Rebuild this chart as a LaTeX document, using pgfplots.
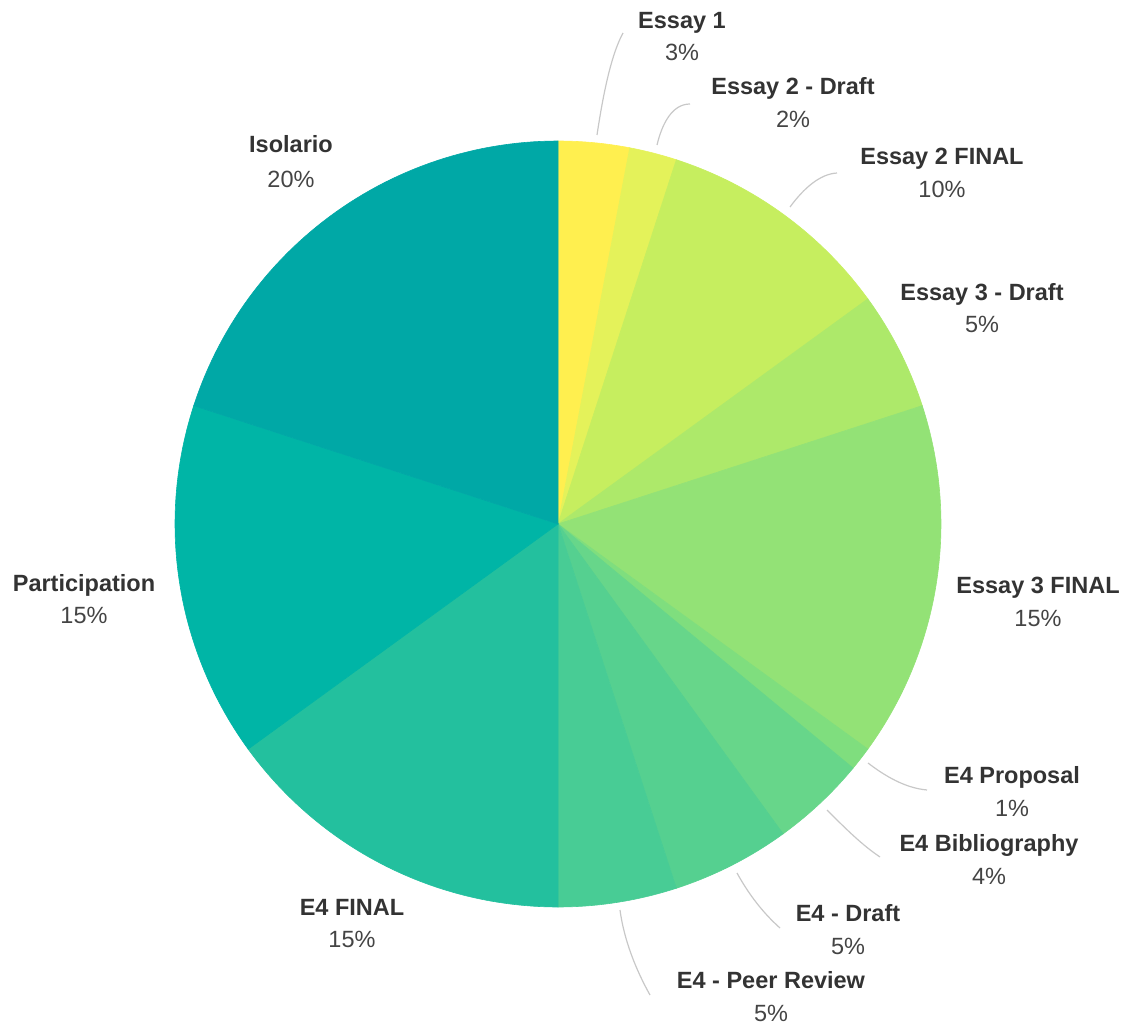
\documentclass[border=0pt]{standalone}
\usepackage{pgfplots}
\pgfplotsset{compat=1.18}
\usepackage{fontspec}
\setmainfont{Liberation Sans}
\definecolor{cA}{HTML}{FFEF4F}
\definecolor{cB}{HTML}{E4F25A}
\definecolor{cC}{HTML}{C6EE5F}
\definecolor{cD}{HTML}{ADE96A}
\definecolor{cE}{HTML}{93E276}
\definecolor{cF}{HTML}{7FDE7E}
\definecolor{cG}{HTML}{67D68A}
\definecolor{cH}{HTML}{55D090}
\definecolor{cI}{HTML}{48CC95}
\definecolor{cJ}{HTML}{23C09E}
\definecolor{cK}{HTML}{00B5A6}
\definecolor{cL}{HTML}{00A8A6}
\definecolor{lname}{HTML}{333333}
\definecolor{lpct}{HTML}{444444}
\definecolor{leader}{HTML}{C8C8C8}
% slice: start percent, end percent, colour
\newcommand{\pieslice}[3]{%
  \addplot[fill=#3, draw=#3, line width=0.6pt, domain={90-3.6*#2}:{90-3.6*#1}, samples=60, variable=\t]
    ({558+383*cos(\t)},{524-383*sin(\t)}) -- (558,524) -- cycle;}
\newcommand{\lab}[5]{%
  \node[anchor=base, text=lname, font=\fontsize{23.5}{28}\selectfont\bfseries] at (axis cs:#1,#2) {#3};
  \node[anchor=base, text=lpct, font=\fontsize{23.5}{28}\selectfont] at (axis cs:#1,#4) {#5};}
\begin{document}
\begin{tikzpicture}
\begin{axis}[
  width=1128pt, height=1023pt, scale only axis,
  xmin=0, xmax=1128, ymin=0, ymax=1023, y dir=reverse,
  hide axis, clip=false]
\path (rel axis cs:0,0) rectangle (rel axis cs:1,1);
% values (percent): 3,2,10,5,15,1,4,5,5,15,15,20 (cumulative)
\pieslice{0}{3}{cA}
\pieslice{3}{5}{cB}
\pieslice{5}{15}{cC}
\pieslice{15}{20}{cD}
\pieslice{20}{35}{cE}
\pieslice{35}{36}{cF}
\pieslice{36}{40}{cG}
\pieslice{40}{45}{cH}
\pieslice{45}{50}{cI}
\pieslice{50}{65}{cJ}
\pieslice{65}{80}{cK}
\pieslice{80}{100}{cL}
% leader lines
\draw[leader, line width=1.2pt] (597,135) .. controls (603,95) and (611,55) .. (623,33);
\draw[leader, line width=1.2pt] (657,145) .. controls (662,124) and (672,104) .. (690,104);
\draw[leader, line width=1.2pt] (790,207) .. controls (804,188) and (820,174) .. (837,173);
\draw[leader, line width=1.2pt] (868,763) .. controls (885,776) and (905,788) .. (927,790);
\draw[leader, line width=1.2pt] (827,810) .. controls (845,828) and (862,845) .. (880,857);
\draw[leader, line width=1.2pt] (737,873) .. controls (748,893) and (762,912) .. (780,928);
\draw[leader, line width=1.2pt] (620,910) .. controls (624,940) and (636,970) .. (650,995);
% labels
\lab{682}{28.5}{Essay 1}{61}{3\%}
\lab{793}{95}{Essay 2 - Draft}{128}{2\%}
\lab{942}{165}{Essay 2 FINAL}{198}{10\%}
\lab{982}{301}{Essay 3 - Draft}{333}{5\%}
\lab{1038}{593}{Essay 3 FINAL}{626}{15\%}
\lab{1012}{783}{E4 Proposal}{816}{1\%}
\lab{989}{851}{E4 Bibliography}{884}{4\%}
\lab{848}{921}{E4 - Draft}{954}{5\%}
\lab{771}{988}{E4 - Peer Review}{1021}{5\%}
\lab{352}{915}{E4 FINAL}{947}{15\%}
\lab{84}{591}{Participation}{623}{15\%}
\lab{291}{153}{Isolario}{188}{20\%}
\end{axis}
\end{tikzpicture}
\end{document}
